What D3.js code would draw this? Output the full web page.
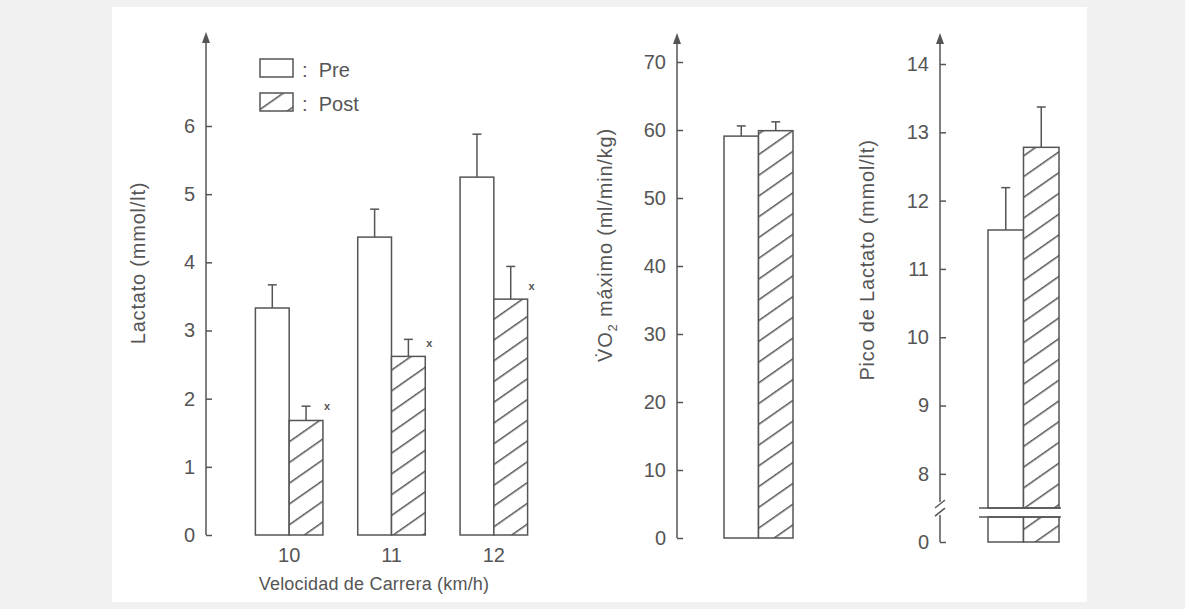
<!DOCTYPE html>
<html>
<head>
<meta charset="utf-8">
<script src="https://cdn.jsdelivr.net/npm/d3@7"></script>
<style>
body { margin: 0; background: #f1f1f1; }
svg text { font-family: 'Liberation Sans', Arial, sans-serif; fill: #555; }
</style>
</head>
<body>
<svg width="1185" height="609"></svg>
<script>
// values
const speeds = ['10', '11', '12'];
const phases = ['Pre', 'Post'];
const lactPre = [3.33, 4.37, 5.25];
const lactPreErr = [3.67, 4.78, 5.88];
const lactPost = [1.68, 2.62, 3.46];
const lactPostErr = [1.89, 2.87, 3.94];
const lactMark = [1.88, 2.80, 3.64];
const vo2 = [59.1, 59.9];
const vo2Err = [60.6, 61.2];
const peak = [11.57, 12.78];
const peakErr = [12.19, 13.37];
const lactTicks = [0, 1, 2, 3, 4, 5, 6];
const vo2Ticks = [0, 10, 20, 30, 40, 50, 60, 70];
const peakTicks = [0, 8, 9, 10, 11, 12, 13, 14];
const peakBreak = [7.5, 5.5];

const svg = d3.select('svg');
const ink = '#555';

svg.append('rect')
    .attr('x', 112).attr('y', 7)
    .attr('width', 975).attr('height', 595)
    .attr('fill', 'white');

const defs = svg.append('defs');
const pat = defs.append('pattern')
    .attr('id', 'hatch')
    .attr('patternUnits', 'userSpaceOnUse')
    .attr('width', 12).attr('height', 17)
    .attr('patternTransform', 'rotate(-35)');
pat.append('rect').attr('width', 12).attr('height', 17).attr('fill', 'white');
pat.append('line')
    .attr('x1', 0).attr('x2', 12).attr('y1', 0.75).attr('y2', 0.75)
    .attr('stroke', ink).attr('stroke-width', 1.5);

// scales
const yLact = d3.scaleLinear().domain([0, 6]).range([535, 126]);
const yVo2 = d3.scaleLinear().domain([0, 70]).range([538, 62]);
const yPeak = d3.scaleLinear().domain([0, 7.5, 14]).range([542, 508, 64]);

const xSpeed = d3.scaleBand().domain(speeds).range([238, 545])
    .paddingInner(0.34).paddingOuter(0.17);
const xPhase = d3.scaleBand().domain(phases).range([0, xSpeed.bandwidth()]);
const xVo2 = d3.scaleBand().domain(phases).range([724, 793]);
const xPeak = d3.scaleBand().domain(phases).range([988, 1059]);

function drawAxis(x, scale, ticks, top) {
    const g = svg.append('g').attr('transform', `translate(${x},0)`);
    g.call(d3.axisLeft(scale)
        .tickValues(ticks)
        .tickFormat(d3.format('d'))
        .tickSizeInner(-6)
        .tickSizeOuter(0)
        .tickPadding(11));
    g.select('.domain').remove();
    g.selectAll('.tick line').attr('stroke', ink).attr('stroke-width', 1.5);
    g.selectAll('.tick text')
        .attr('font-size', 20)
        .attr('font-family', null)
        .attr('fill', ink);
    g.append('path')
        .attr('d', `M0,${top} L-4,${top + 11} L4,${top + 11} Z`)
        .attr('fill', ink);
    return g;
}

function axisTitle(x, y, build) {
    const t = svg.append('text')
        .attr('transform', `translate(${x},${y}) rotate(-90)`)
        .attr('text-anchor', 'middle')
        .attr('dy', '0.35em')
        .attr('font-size', 20)
        .attr('letter-spacing', 0.8);
    build(t);
}

function bar(x, w, yTop, yBottom, fill) {
    svg.append('rect')
        .attr('x', x).attr('y', yTop)
        .attr('width', w).attr('height', yBottom - yTop)
        .attr('fill', fill)
        .attr('stroke', ink).attr('stroke-width', 1.5);
}

function errorBar(cx, yTop, yErr) {
    svg.append('line')
        .attr('x1', cx).attr('x2', cx).attr('y1', yTop).attr('y2', yErr)
        .attr('stroke', ink).attr('stroke-width', 1.5);
    svg.append('line')
        .attr('x1', cx - 4.5).attr('x2', cx + 4.5).attr('y1', yErr).attr('y2', yErr)
        .attr('stroke', ink).attr('stroke-width', 1.5);
}

const fillOf = p => p === 'Pre' ? 'white' : 'url(#hatch)';

// ---- panel 1: lactate by speed
const lAxis = drawAxis(206, yLact, lactTicks, 32);
lAxis.append('line')
    .attr('x1', 0).attr('x2', 0).attr('y1', 40).attr('y2', yLact(0))
    .attr('stroke', ink).attr('stroke-width', 1.5);

speeds.forEach((s, i) => {
    const vals = { Pre: [lactPre[i], lactPreErr[i]], Post: [lactPost[i], lactPostErr[i]] };
    phases.forEach(p => {
        const x = xSpeed(s) + xPhase(p);
        const w = xPhase.bandwidth();
        errorBar(x + w / 2, yLact(vals[p][0]), yLact(vals[p][1]));
        bar(x, w, yLact(vals[p][0]), yLact(0), fillOf(p));
    });
    svg.append('text')
        .attr('x', xSpeed(s) + xPhase('Post') + xPhase.bandwidth() + 1)
        .attr('y', yLact(lactMark[i]))
        .attr('dy', '0.3em')
        .attr('font-size', 11)
        .attr('font-weight', 'bold')
        .text('x');
});

const xAxisG = svg.append('g')
    .attr('transform', `translate(0,${yLact(0)})`)
    .call(d3.axisBottom(xSpeed).tickSize(0).tickPadding(13));
xAxisG.select('.domain').remove();
xAxisG.selectAll('text').attr('font-size', 20).attr('font-family', null).attr('fill', ink);

svg.append('text')
    .attr('x', 374).attr('y', 590)
    .attr('text-anchor', 'middle')
    .attr('font-size', 18)
    .attr('letter-spacing', 0.2)
    .text('Velocidad de Carrera (km/h)');

axisTitle(138, 263, t => t.text('Lactato (mmol/lt)'));

// legend
phases.forEach((p, i) => {
    const y = 59 + i * 34;
    svg.append('rect')
        .attr('x', 260).attr('y', y)
        .attr('width', 33).attr('height', 18)
        .attr('fill', fillOf(p))
        .attr('stroke', ink).attr('stroke-width', 1.5);
    svg.append('text')
        .attr('x', 302).attr('y', y + 18)
        .attr('font-size', 20)
        .text(':  ' + p)
        .attr('xml:space', 'preserve');
});

// ---- panel 2: VO2 max
const vAxis = drawAxis(677, yVo2, vo2Ticks, 33);
vAxis.append('line')
    .attr('x1', 0).attr('x2', 0).attr('y1', 41).attr('y2', yVo2(0))
    .attr('stroke', ink).attr('stroke-width', 1.5);

phases.forEach((p, i) => {
    const x = xVo2(p);
    const w = xVo2.bandwidth();
    errorBar(x + w / 2, yVo2(vo2[i]), yVo2(vo2Err[i]));
    bar(x, w, yVo2(vo2[i]), yVo2(0), fillOf(p));
});

axisTitle(605, 245, t => {
    t.append('tspan').text('V\u0307O');
    t.append('tspan').attr('font-size', 13).attr('dy', 5).text('2');
    t.append('tspan').attr('dy', -5).text(' máximo (ml/min/kg)');
});

// ---- panel 3: peak lactate with broken axis
const pAxis = drawAxis(940, yPeak, peakTicks, 33);
const breakTopY = yPeak(peakBreak[0]);
const breakBotY = yPeak(peakBreak[1]);
pAxis.append('line')
    .attr('x1', 0).attr('x2', 0).attr('y1', 41).attr('y2', breakTopY - 6)
    .attr('stroke', ink).attr('stroke-width', 1.5);
pAxis.append('line')
    .attr('x1', 0).attr('x2', 0).attr('y1', breakBotY - 2).attr('y2', yPeak(0))
    .attr('stroke', ink).attr('stroke-width', 1.5);
[breakTopY - 4, breakBotY - 5].forEach(y => {
    pAxis.append('line')
        .attr('x1', -5).attr('x2', 5).attr('y1', y + 4).attr('y2', y - 4)
        .attr('stroke', ink).attr('stroke-width', 1.5);
});

phases.forEach((p, i) => {
    const x = xPeak(p);
    const w = xPeak.bandwidth();
    errorBar(x + w / 2, yPeak(peak[i]), yPeak(peakErr[i]));
    bar(x, w, yPeak(peak[i]), breakTopY, fillOf(p));
    bar(x, w, breakBotY, yPeak(0), fillOf(p));
});
[breakTopY, breakBotY].forEach(y => {
    svg.append('line')
        .attr('x1', xPeak.range()[0] - 9).attr('x2', xPeak.range()[1] + 2)
        .attr('y1', y).attr('y2', y)
        .attr('stroke', ink).attr('stroke-width', 1.5);
});

axisTitle(867, 260, t => t.text('Pico de Lactato (mmol/lt)'));
</script>
</body>
</html>
